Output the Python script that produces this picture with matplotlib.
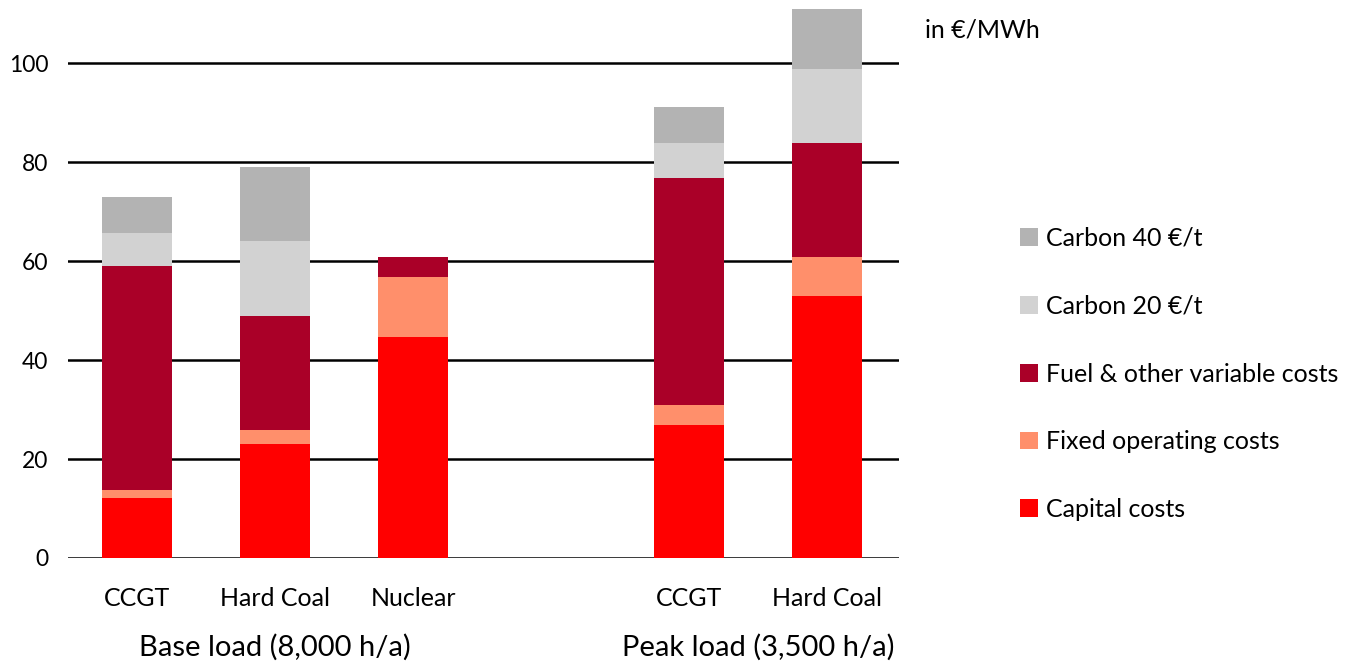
import matplotlib
matplotlib.use("Agg")
import matplotlib.pyplot as plt
from matplotlib.patches import Patch
import numpy as np

plt.rcParams["font.family"] = ["Lato", "DejaVu Sans"]

# Plants and their load regime
plants = ["CCGT", "Hard Coal", "Nuclear", "CCGT", "Hard Coal"]
positions = [0, 1, 2, 4, 5]
groups = ["Base load (8,000 h/a)", "Peak load (3,500 h/a)"]
group_centers = [1.0, 4.5]

# Cost components in €/MWh (stacked bottom to top)
capital = [12.1, 23.0, 44.7, 26.9, 53.0]
fixed_om = [1.6, 2.9, 12.1, 4.0, 7.8]
fuel = [45.3, 23.0, 4.0, 45.9, 23.1]
carbon20 = [6.7, 15.2, 0.0, 7.1, 14.9]
carbon40 = [7.3, 14.9, 0.0, 7.3, 12.2]

series = [
    ("Capital costs", capital, "#FF0000"),
    ("Fixed operating costs", fixed_om, "#FF8F6B"),
    ("Fuel & other variable costs", fuel, "#AA0028"),
    ("Carbon 20 €/t", carbon20, "#D2D2D2"),
    ("Carbon 40 €/t", carbon40, "#B3B3B3"),
]

W, H = 1347, 662
fig = plt.figure(figsize=(W / 100, H / 100), dpi=100)
ax = fig.add_axes([68 / W, 1 - 558 / H, (899 - 68) / W, (558 - 9) / H])

ax.set_ylim(0, 111)
ax.set_xlim(-0.5, 5.52)
ax.set_yticks([0, 20, 40, 60, 80, 100])
for y in [0, 20, 40, 60, 80, 100]:
    ax.axhline(y, color="black", lw=1.8, zorder=1)

bottom = np.zeros(len(plants))
for name, vals, col in series:
    vals = np.array(vals)
    ax.bar(positions, vals, width=0.51, bottom=bottom, color=col,
           zorder=2, linewidth=0)
    bottom += vals

for s in ax.spines.values():
    s.set_visible(False)
ax.tick_params(axis="y", length=0, pad=14, labelsize=16.5)
ax.tick_params(axis="x", length=0, pad=21, labelsize=18)
ax.set_xticks(positions)
ax.set_xticklabels(plants)

for g, xc in zip(groups, group_centers):
    ax.text(xc, -0.162, g, transform=ax.get_xaxis_transform(),
            ha="center", va="center", fontsize=21)

fig.text(925 / W, 1 - 30 / H, "in €/MWh", ha="left", va="center", fontsize=18)

handles = [Patch(facecolor=c, edgecolor="none", label=n) for n, _, c in series][::-1]
leg = fig.legend(handles=handles, loc="upper left",
                 bbox_to_anchor=(1020 / W, 1 - 227 / H), frameon=False,
                 fontsize=18, handlelength=0.72, handleheight=0.72,
                 handletextpad=0.32, labelspacing=1.79, borderpad=0,
                 borderaxespad=0)

fig.savefig("out.png", dpi=100)
